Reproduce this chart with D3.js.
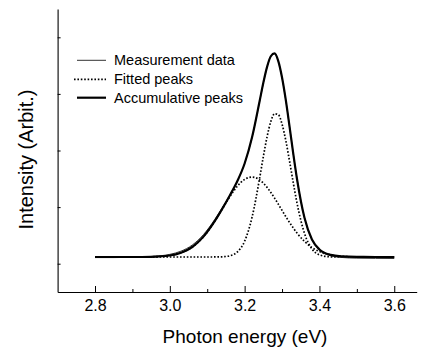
<!DOCTYPE html>
<html>
<head>
<meta charset="utf-8">
<script src="https://cdn.jsdelivr.net/npm/d3@7"></script>
<style>
  html, body { margin: 0; padding: 0; background: #fff; }
  svg { display: block; }
  text { font-family: "Liberation Sans", Arial, sans-serif; fill: #000; }
</style>
</head>
<body>
<svg id="chart" width="428" height="350"></svg>
<script>
// ---- data ----
const energy = [2.80, 2.85, 2.90, 2.95, 3.00, 3.03, 3.06, 3.09, 3.12, 3.14, 3.16, 3.18,
  3.20, 3.22, 3.24, 3.25, 3.26, 3.27, 3.28, 3.29, 3.30, 3.31, 3.32, 3.33, 3.34,
  3.36, 3.38, 3.40, 3.43, 3.46, 3.50, 3.55, 3.60];
const measured = [0.108, 0.108, 0.112, 0.128, 0.165, 0.222, 0.330, 0.515, 0.780, 0.985, 1.210, 1.455,
  1.770, 2.235, 2.865, 3.190, 3.475, 3.662, 3.710, 3.575, 3.285, 2.890, 2.425, 1.945, 1.500,
  0.815, 0.425, 0.240, 0.140, 0.110, 0.098, 0.094, 0.092];
const fittedPeak1 = [0.118, 0.118, 0.118, 0.122, 0.145, 0.193, 0.295, 0.478, 0.750, 0.964, 1.180, 1.365,
  1.490, 1.531, 1.481, 1.424, 1.349, 1.259, 1.158, 1.052, 0.942, 0.833, 0.729, 0.631, 0.542,
  0.394, 0.286, 0.214, 0.154, 0.130, 0.120, 0.118, 0.118];
const fittedPeak2 = [0.118, 0.118, 0.118, 0.118, 0.118, 0.118, 0.118, 0.118, 0.119, 0.122, 0.139, 0.205,
  0.398, 0.825, 1.507, 1.891, 2.243, 2.512, 2.649, 2.634, 2.466, 2.178, 1.815, 1.432, 1.073,
  0.536, 0.261, 0.156, 0.121, 0.118, 0.118, 0.118, 0.118];
const accumulative = [0.118, 0.118, 0.118, 0.122, 0.145, 0.193, 0.295, 0.478, 0.751, 0.968, 1.201, 1.452,
  1.770, 2.238, 2.870, 3.197, 3.478, 3.665, 3.715, 3.580, 3.290, 2.893, 2.426, 1.945, 1.497,
  0.812, 0.429, 0.252, 0.157, 0.130, 0.120, 0.118, 0.118];
const xMajorTicks = [2.8, 3.0, 3.2, 3.4, 3.6];
const xMinorTicks = [2.9, 3.1, 3.3, 3.5];
const yTicks = [0, 1, 2, 3, 4];
const legendLabels = ["Measurement data", "Fitted peaks", "Accumulative peaks"];
const xTitle = "Photon energy (eV)";
const yTitle = "Intensity (Arbit.)";

// ---- layout ----
const svg = d3.select("#chart");
const x = d3.scaleLinear().domain([2.7, 3.66]).range([57.6, 416.7]);
const y = d3.scaleLinear().domain([-0.5, 4.5]).range([292, 9]);

// axes
const xAxis = svg.append("g").attr("transform", `translate(0,${y(-0.5)})`)
  .call(d3.axisBottom(x).tickValues(xMajorTicks).tickFormat(d3.format(".1f"))
    .tickSizeInner(-6).tickSizeOuter(0).tickPadding(7.5));
xAxis.selectAll("text").style("font-size", "16px").style("font-family", '"Liberation Sans", Arial, sans-serif');
svg.append("g").attr("transform", `translate(0,${y(-0.5)})`)
  .call(d3.axisBottom(x).tickValues(xMinorTicks).tickFormat("").tickSizeInner(-3).tickSizeOuter(0))
  .select(".domain").remove();

svg.append("g").attr("transform", `translate(${x(2.7)},0)`)
  .call(d3.axisLeft(y).tickValues(yTicks).tickFormat("").tickSizeInner(-3).tickSizeOuter(0));

svg.selectAll(".domain").attr("stroke", "#000").attr("stroke-width", 1.1);
svg.selectAll(".tick line").attr("stroke", "#000").attr("stroke-width", 1);

// titles
svg.append("text").attr("x", 245).attr("y", 343).attr("text-anchor", "middle")
  .style("font-size", "19px").text(xTitle);
svg.append("text").attr("transform", "translate(32.5,159.5) rotate(-90)").attr("text-anchor", "middle")
  .style("font-size", "20px").text(yTitle);

// curves
const rows = energy.map((e, i) => ({ e, m: measured[i], p1: fittedPeak1[i], p2: fittedPeak2[i], a: accumulative[i] }));
const mk = key => d3.line().x(d => x(d.e)).y(d => y(d[key])).curve(d3.curveMonotoneX);

const plot = svg.append("g");
["p1", "p2"].forEach(k => {
  plot.append("path").datum(rows).attr("d", mk(k)).attr("fill", "none")
    .attr("stroke", "#000").attr("stroke-width", 1.7).attr("stroke-dasharray", "1.6,1.8");
});
plot.append("path").datum(rows).attr("d", mk("m")).attr("fill", "none")
  .attr("stroke", "#333").attr("stroke-width", 1);
plot.append("path").datum(rows).attr("d", mk("a")).attr("fill", "none")
  .attr("stroke", "#000").attr("stroke-width", 2.2).attr("stroke-linejoin", "round");

// legend
const legY = [60.3, 79.3, 97.7];
const leg = svg.append("g");
leg.append("line").attr("x1", 77).attr("x2", 106).attr("y1", legY[0]).attr("y2", legY[0])
  .attr("stroke", "#333").attr("stroke-width", 1);
leg.append("line").attr("x1", 74).attr("x2", 106).attr("y1", legY[1]).attr("y2", legY[1])
  .attr("stroke", "#000").attr("stroke-width", 1.7).attr("stroke-dasharray", "1.6,1.8");
leg.append("line").attr("x1", 77).attr("x2", 106).attr("y1", legY[2]).attr("y2", legY[2])
  .attr("stroke", "#000").attr("stroke-width", 2.2);
legendLabels.forEach((t, i) => {
  leg.append("text").attr("x", 114).attr("y", legY[i] + 5).style("font-size", "14.5px").text(t);
});
</script>
</body>
</html>
